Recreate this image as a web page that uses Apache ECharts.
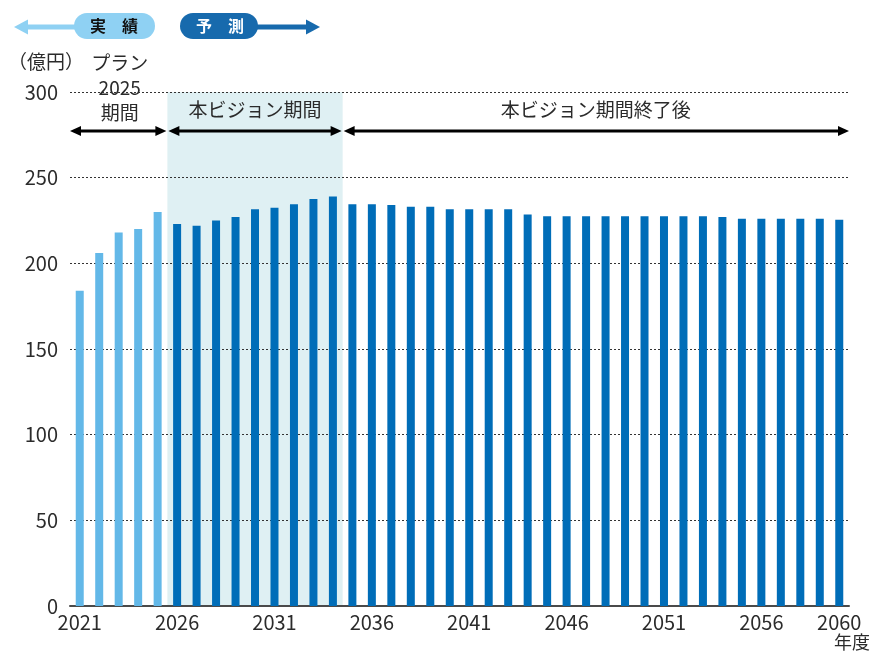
<!DOCTYPE html>
<html>
<head>
<meta charset="utf-8">
<script src="https://cdn.jsdelivr.net/npm/echarts@6/dist/echarts.min.js"></script>
<style>
	html, body { margin: 0; padding: 0; background: #fff; }
	#main { width: 872px; height: 652px; }
</style>
</head>
<body>
<div id="main"></div>
<script>
	// 年度
	var years = ['2021', '2022', '2023', '2024', '2025', '2026', '2027', '2028', '2029', '2030',
		'2031', '2032', '2033', '2034', '2035', '2036', '2037', '2038', '2039', '2040',
		'2041', '2042', '2043', '2044', '2045', '2046', '2047', '2048', '2049', '2050',
		'2051', '2052', '2053', '2054', '2055', '2056', '2057', '2058', '2059', '2060'];
	// 実績 (億円)
	var actual = [184, 206, 218, 220, 230];
	// 予測 (億円) 2026-2060
	var forecast = [223, 222, 225, 227, 231.5, 232.5, 234.5, 237.5, 239, 234.5,
		234.5, 234, 233, 233, 231.5, 231.5, 231.5, 231.5, 228.5, 227.5,
		227.5, 227.5, 227.5, 227.5, 227.5, 227.5, 227.5, 227.5, 227, 226,
		226, 226, 226, 226, 225.5];
	var yTicks = [0, 50, 100, 150, 200, 250, 300];
	var periodLabels = ['プラン\n2025\n期間', '本ビジョン期間', '本ビジョン期間終了後'];

	var font = "'Noto Sans CJK JP', 'Noto Sans', sans-serif";
	var textColor = '#2b2b2b';

	let actualData = [], forecastData = [];
	years.forEach((y, i) => {
		actualData.push(i < actual.length ? actual[i] : '-');
		forecastData.push(i < actual.length ? '-' : forecast[i - actual.length]);
	});

	var chart = echarts.init(document.getElementById('main'));
	chart.setOption({
		animation: false,
		grid: { left: 70, right: 23, top: 92, bottom: 46 },
		xAxis: {
			type: 'category',
			data: years,
			axisLine: { lineStyle: { color: '#4a4a4a', width: 2 } },
			axisTick: { show: false },
			axisLabel: {
				interval: (idx) => idx % 5 === 0 || idx === years.length - 1,
				color: textColor, fontSize: 20, fontFamily: font, margin: 6
			}
		},
		yAxis: {
			type: 'value',
			min: yTicks[0],
			max: yTicks[yTicks.length - 1],
			interval: 50,
			axisLine: { show: false },
			axisTick: { show: false },
			axisLabel: { color: textColor, fontSize: 20, fontFamily: font, margin: 12 },
			splitLine: { lineStyle: { color: '#333', type: [2, 2], width: 1 } }
		},
		series: [
			{ name: '実績', type: 'bar', data: actualData, barWidth: 8, barGap: '-100%',
				itemStyle: { color: '#63b8e8' } },
			{ name: '予測', type: 'bar', data: forecastData, barWidth: 8, barGap: '-100%',
				itemStyle: { color: '#006db8' } }
		]
	});

	// 期間の境界 (カテゴリ軸から算出)
	function px(i) { return chart.convertToPixel({ xAxisIndex: 0 }, years[i]); }
	let half = (px(1) - px(0)) / 2;
	let xStart = px(0) - half;
	let b1 = px(5) - half;
	let b2 = px(13) + half;
	let xEnd = px(years.length - 1) + half;
	let yTop = chart.convertToPixel({ yAxisIndex: 0 }, 300);
	let yBase = chart.convertToPixel({ yAxisIndex: 0 }, 0);

	function dblArrow(x1, x2, y) {
		let h = 10, w = 5, c = '#000';
		return [
			{ type: 'line', shape: { x1: x1 + h, y1: y, x2: x2 - h, y2: y }, style: { stroke: c, lineWidth: 3 } },
			{ type: 'polygon', shape: { points: [[x1, y], [x1 + h + 1, y - w], [x1 + h + 1, y + w]] }, style: { fill: c } },
			{ type: 'polygon', shape: { points: [[x2, y], [x2 - h - 1, y - w], [x2 - h - 1, y + w]] }, style: { fill: c } }
		];
	}
	function label(text, x, y, opt) {
		return Object.assign({
			type: 'text', x: x, y: y,
			style: { text: text, fill: textColor, font: '19px ' + font, align: 'center', verticalAlign: 'middle', lineHeight: 25 }
		}, opt || {});
	}

	let ay = 131;
	let graphics = [
		{ type: 'rect', z: -10, shape: { x: b1, y: yTop, width: b2 - b1, height: yBase - yTop }, style: { fill: '#dff0f3' } },
		label(periodLabels[0], (xStart + b1) / 2 + 1, 88),
		label(periodLabels[1], (b1 + b2) / 2, 110),
		label(periodLabels[2], (b2 + xEnd) / 2, 110),
		label('（億円）', 8, 62, { style: { text: '（億円）', fill: textColor, font: '19px ' + font, align: 'left', verticalAlign: 'middle' } }),
		label('年度', 870, 642, { style: { text: '年度', fill: textColor, font: '18px ' + font, align: 'right', verticalAlign: 'middle' } }),
		// 実績 ヘッダー
		{ type: 'rect', shape: { x: 26, y: 24.5, width: 60, height: 5 }, style: { fill: '#8fd1f3' } },
		{ type: 'polygon', shape: { points: [[14, 27], [28, 19.5], [28, 34.5]] }, style: { fill: '#8fd1f3' } },
		{ type: 'rect', shape: { x: 74, y: 13, width: 81, height: 26, r: 13 }, style: { fill: '#8fd1f3' } },
		{ type: 'text', x: 114, y: 26, style: { text: '実　績', fill: '#111', font: 'bold 16px ' + font, align: 'center', verticalAlign: 'middle' } },
		// 予測 ヘッダー
		{ type: 'rect', shape: { x: 250, y: 24.5, width: 60, height: 5 }, style: { fill: '#176aad' } },
		{ type: 'polygon', shape: { points: [[320, 27], [306, 19.5], [306, 34.5]] }, style: { fill: '#176aad' } },
		{ type: 'rect', shape: { x: 180, y: 13, width: 78, height: 26, r: 13 }, style: { fill: '#176aad' } },
		{ type: 'text', x: 220, y: 26, style: { text: '予　測', fill: '#fff', font: 'bold 16px ' + font, align: 'center', verticalAlign: 'middle' } }
	];
	graphics = graphics.concat(dblArrow(xStart, b1 - 1, ay), dblArrow(b1 + 1, b2 - 1, ay), dblArrow(b2 + 1, xEnd, ay));
	chart.setOption({ graphic: graphics });
</script>
</body>
</html>
